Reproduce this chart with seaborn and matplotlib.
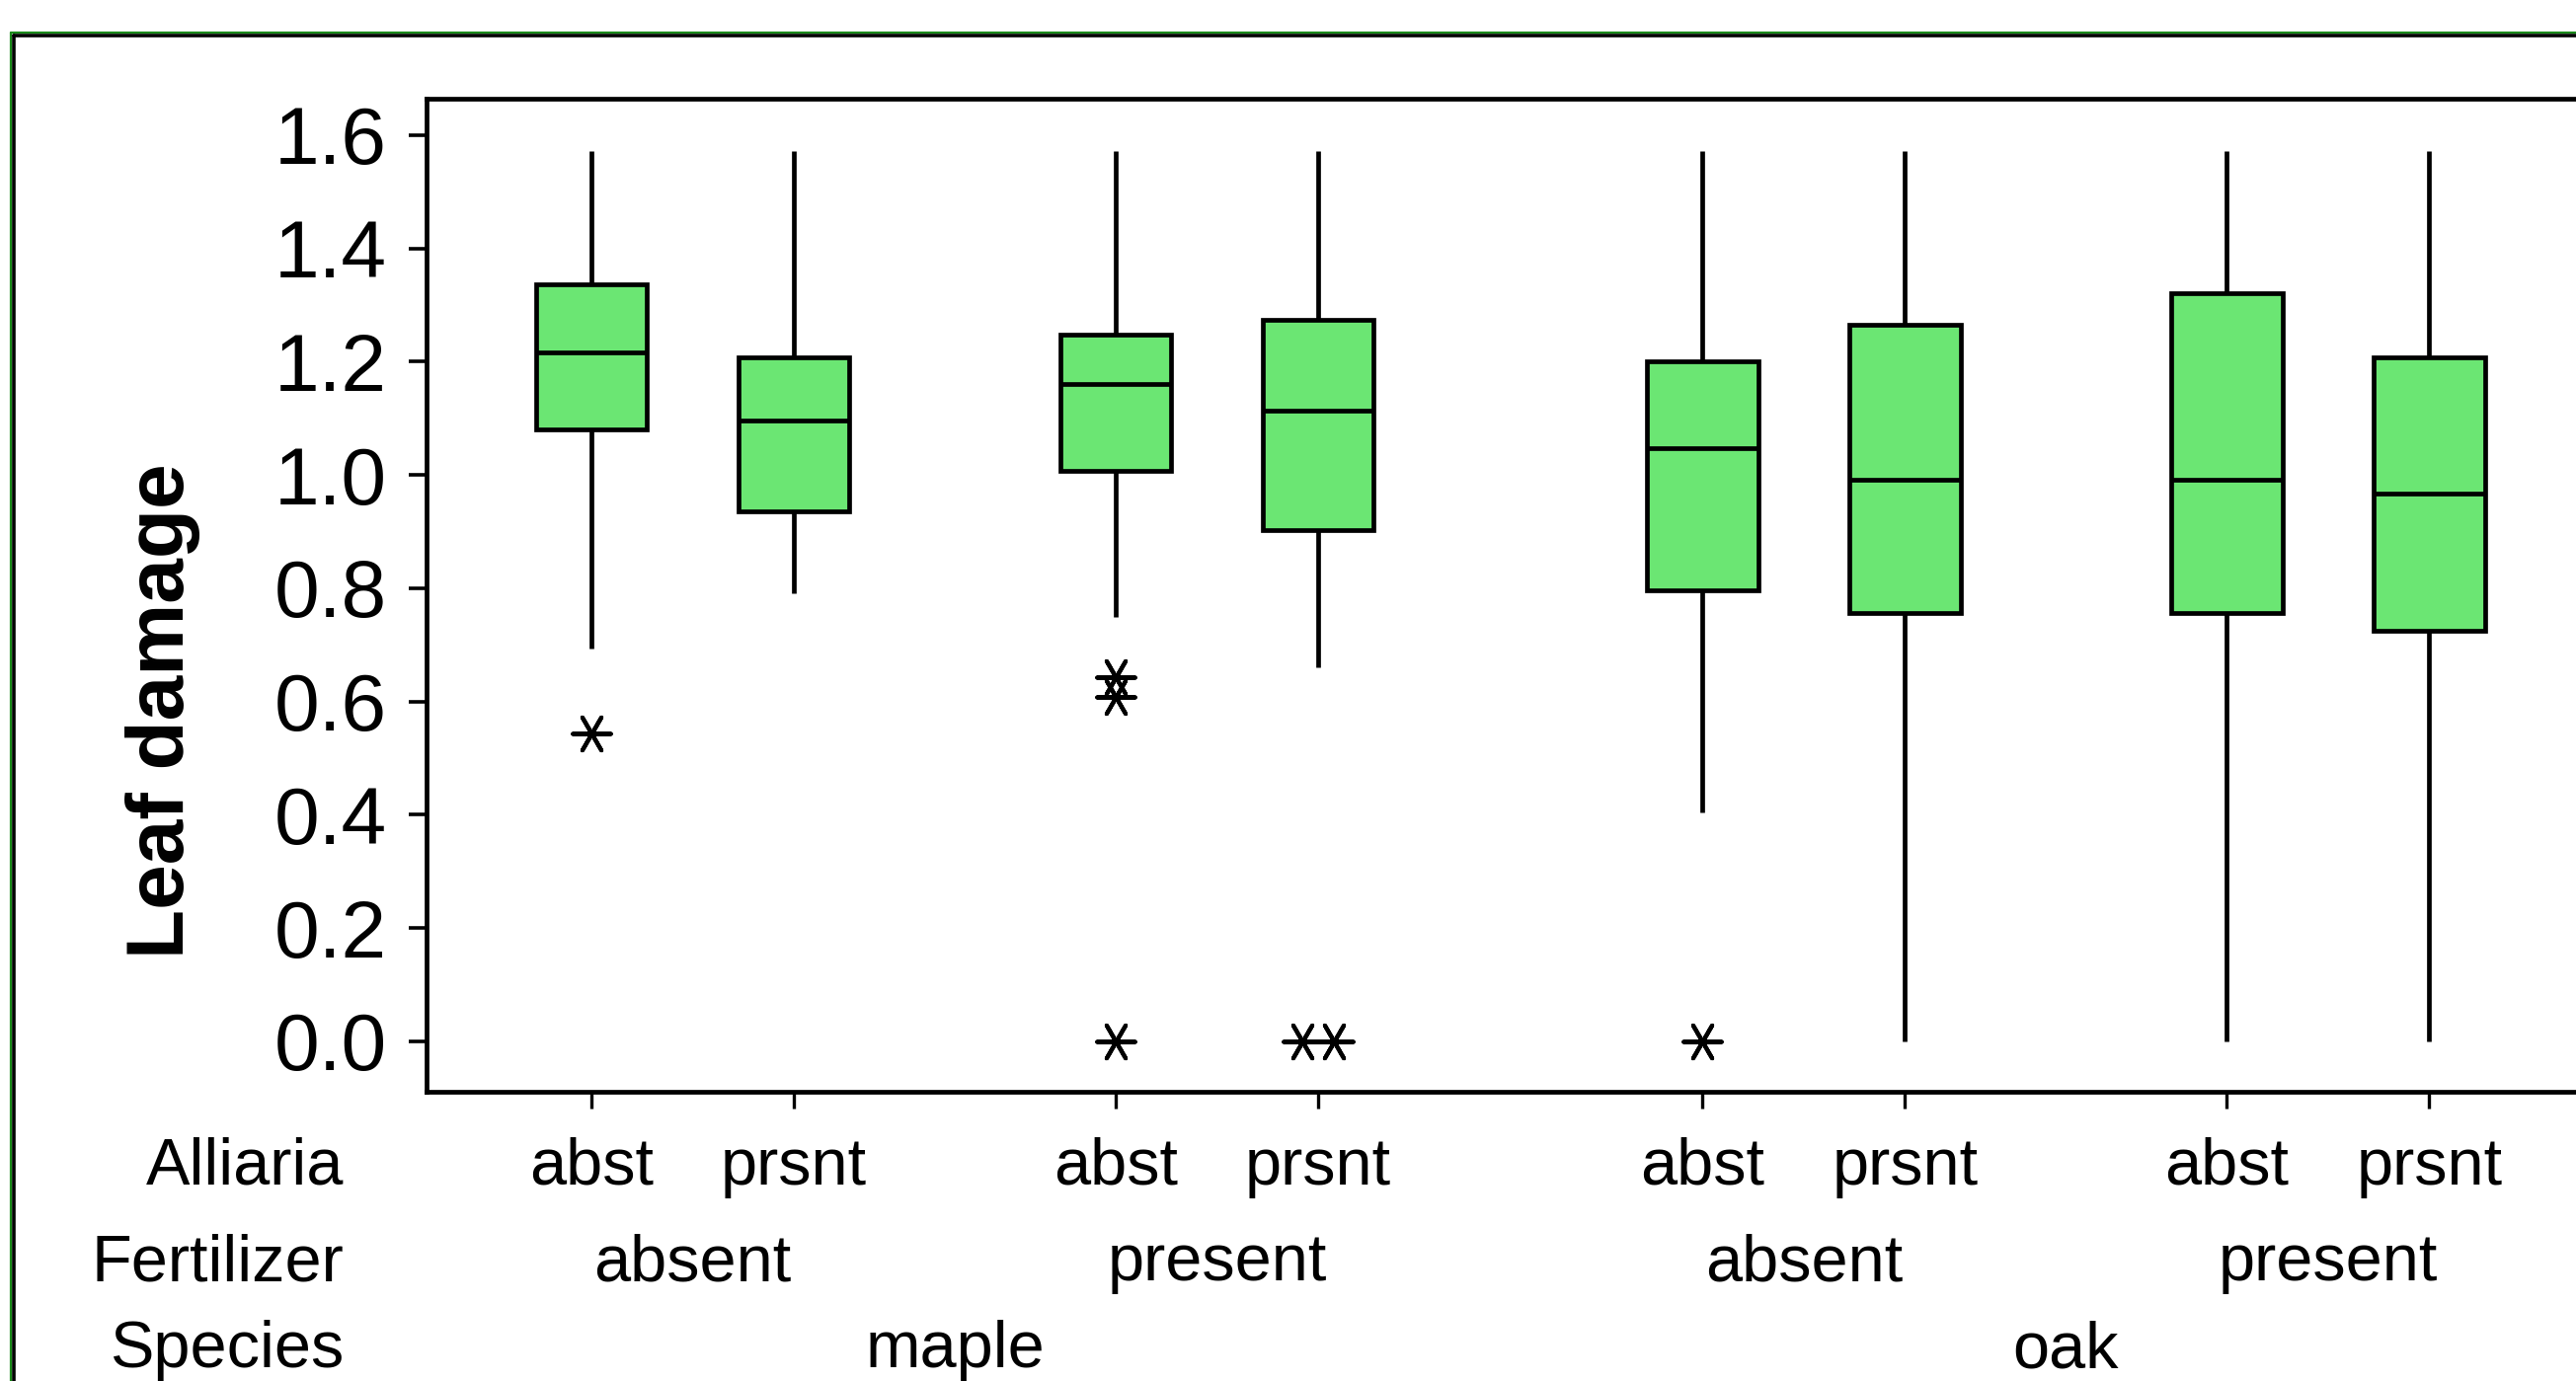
import numpy as np
import pandas as pd
import matplotlib
matplotlib.use("Agg")
import matplotlib.pyplot as plt
from matplotlib.lines import Line2D
from matplotlib.transforms import blended_transform_factory
import seaborn as sns

# ---------------- data ----------------
species_levels = ["maple", "oak"]
fert_levels = ["absent", "present"]
alliaria_levels = ["abst", "prsnt"]

# box order: maple/absent/abst, maple/absent/prsnt, maple/present/abst, maple/present/prsnt,
#            oak/absent/abst,   oak/absent/prsnt,   oak/present/abst,   oak/present/prsnt
whisker_low = [0.693, 0.791, 0.750, 0.661, 0.404, 0.000, 0.000, 0.000]
q1 = [1.080, 0.935, 1.007, 0.902, 0.797, 0.757, 0.757, 0.725]
median = [1.216, 1.096, 1.160, 1.113, 1.047, 0.992, 0.992, 0.967]
q3 = [1.337, 1.208, 1.248, 1.273, 1.201, 1.265, 1.321, 1.208]
whisker_high = [1.5708, 1.5708, 1.5708, 1.5708, 1.5708, 1.5708, 1.5708, 1.5708]
outliers = [[0.544], [], [0.643, 0.608, 0.0], [0.0, 0.0], [0.0], [], [], []]

yticks = [0.0, 0.2, 0.4, 0.6, 0.8, 1.0, 1.2, 1.4, 1.6]
row_titles = ["Alliaria", "Fertilizer", "Species"]
ylabel = "Leaf damage"

# ---------------- layout ----------------
W, H, DPI = 2609, 1399, 100
species_gap = 5.49
fert_gap = 2.59

rows = []
box_pos = []
k = 0
for si, sp in enumerate(species_levels):
    for fi, fe in enumerate(fert_levels):
        for ai, al in enumerate(alliaria_levels):
            p = si * species_gap + fi * fert_gap + ai
            box_pos.append(p)
            for v in (whisker_low[k], q1[k], median[k], q3[k], whisker_high[k]):
                rows.append(dict(species=sp, fert=fe, alliaria=al, pos=p, value=v))
            k += 1
df = pd.DataFrame(rows)

out_rows = []
for k, vals in enumerate(outliers):
    uniq = {}
    for v in vals:
        uniq.setdefault(v, 0)
        uniq[v] += 1
    for v, n in uniq.items():
        for j in range(n):
            off = (j - (n - 1) / 2) * 0.16
            out_rows.append(dict(x=box_pos[k] + off, value=v))
out_df = pd.DataFrame(out_rows)

sns.set_theme(style="white")
plt.rcParams["font.family"] = ["Liberation Sans", "DejaVu Sans"]
plt.rcParams["text.color"] = "black"
plt.rcParams["axes.labelcolor"] = "black"
plt.rcParams["xtick.color"] = "black"
plt.rcParams["ytick.color"] = "black"

fig = plt.figure(figsize=(W / DPI, H / DPI), dpi=DPI)
ax_left_px, ax_top_px, ax_bottom_px = 432, 100, 1106
ax_right_px = 2700
ax = fig.add_axes([ax_left_px / W, 1 - ax_bottom_px / H,
                   (ax_right_px - ax_left_px) / W, (ax_bottom_px - ax_top_px) / H])

px_per_unit = 205.0
first_box_px = 599.0
xmin = -(first_box_px - ax_left_px) / px_per_unit
xmax = xmin + (ax_right_px - ax_left_px) / px_per_unit

lw = 3.4
sns.boxplot(data=df, x="pos", y="value", native_scale=True, whis=np.inf,
            width=0.55, color="#6be673", saturation=1, linecolor="black",
            linewidth=lw, showfliers=False, capprops={"visible": False}, ax=ax)

sns.scatterplot(data=out_df, x="x", y="value", marker=(6, 2, 90), s=760,
                color="black", linewidth=3.0, ax=ax, legend=False, zorder=5)

ax.set_xlim(xmin, xmax)
ax.set_ylim(-0.089, 1.664)
ax.set_yticks(yticks)
ax.set_yticklabels([f"{t:.1f}" for t in yticks], fontsize=59, color="black")
ax.set_xticks(box_pos)
ax.set_xticklabels([])
ax.set_xlabel("")
ax.set_ylabel("")
ax.tick_params(axis="y", direction="out", length=13, width=2.6, pad=16, left=True, colors="black")
ax.tick_params(axis="x", direction="out", length=12, width=2.4, bottom=True, colors="black")
for side in ["left", "top", "bottom", "right"]:
    ax.spines[side].set_color("black")
    ax.spines[side].set_linewidth(3.4)
ax.grid(False)

# category label rows under the axis
tr = blended_transform_factory(ax.transData, fig.transFigure)
row_base_px = [1200, 1297, 1385]
lab_fs = 48
for txt, yb in zip(row_titles, row_base_px):
    fig.text(348 / W, 1 - yb / H, txt, ha="right", va="baseline", fontsize=lab_fs,
             color="black")

k = 0
for si, sp in enumerate(species_levels):
    sp_pos = []
    for fi, fe in enumerate(fert_levels):
        f_pos = []
        for ai, al in enumerate(alliaria_levels):
            p = box_pos[k]
            ax.text(p, 1 - row_base_px[0] / H, al, transform=tr, ha="center",
                    va="baseline", fontsize=lab_fs, color="black")
            f_pos.append(p)
            k += 1
        ax.text(np.mean(f_pos), 1 - row_base_px[1] / H, fe, transform=tr,
                ha="center", va="baseline", fontsize=lab_fs, color="black")
        sp_pos += f_pos
    ax.text(np.mean(sp_pos), 1 - row_base_px[2] / H, sp, transform=tr,
            ha="center", va="baseline", fontsize=lab_fs, color="black")

fig.text(165 / W, 1 - 720 / H, ylabel, rotation=90, ha="center", va="center",
         fontsize=59, fontweight="bold", color="black")

# outer frame (green + black double line), clipped at right and bottom
fig.add_artist(Line2D([11 / W, 11 / W], [0, 1 - 33 / H], color="#1a8a1a", lw=1.6,
                      transform=fig.transFigure))
fig.add_artist(Line2D([11 / W, 1.0], [1 - 33 / H, 1 - 33 / H], color="#1a8a1a", lw=1.6,
                      transform=fig.transFigure))
fig.add_artist(Line2D([14 / W, 14 / W], [0, 1 - 36 / H], color="black", lw=2.6,
                      transform=fig.transFigure))
fig.add_artist(Line2D([14 / W, 1.0], [1 - 36 / H, 1 - 36 / H], color="black", lw=2.6,
                      transform=fig.transFigure))

fig.savefig("out.png", dpi=DPI, facecolor="white")
